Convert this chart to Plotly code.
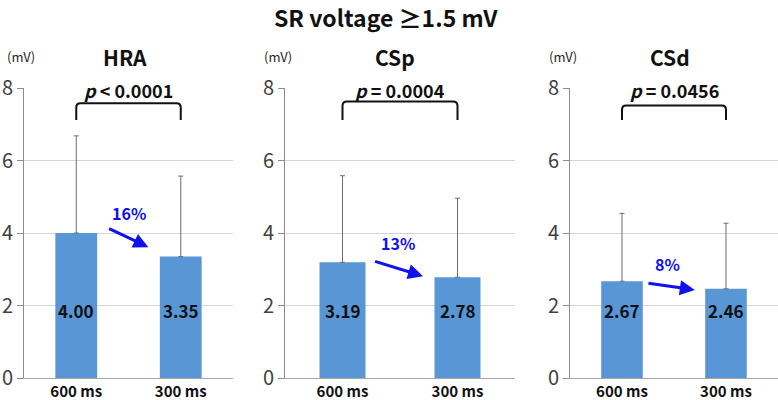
import plotly.graph_objects as go

# ---- data ----
panels = ["HRA", "CSp", "CSd"]
categories = ["600 ms", "300 ms"]
means = {"HRA": [4.00, 3.35], "CSp": [3.19, 2.78], "CSd": [2.67, 2.46]}
sd_upper = {"HRA": [2.68, 2.22], "CSp": [2.39, 2.18], "CSd": [1.87, 1.81]}
p_labels = {"HRA": "<i>p</i>&nbsp;< 0.0001", "CSp": "<i>p</i>&nbsp;= 0.0004", "CSd": "<i>p</i>&nbsp;= 0.0456"}
pct_labels = {"HRA": "16%", "CSp": "13%", "CSd": "8%"}
title_text = "SR voltage ≥1.5 mV"
y_ticks = [0, 2, 4, 6, 8]

# ---- layout / styling ----
FONT = "Noto Sans CJK JP"
BAR_COLOR = "#5896d6"
BLUE = "#1010f0"
x_domains = [[24/778, 233/778], [285/778, 515/778], [570/778, 1.0]]
y_domain = [22/400, 312/400]
title_x = [125/778, 395/778, 670/778]
mv_x = [21/778, 278/778, 563/778]
# arrow geometry per panel in data coords: (x_start, y_start, x_end, y_end, label_x, label_y)
arrows = {
    "HRA": (0.30, 4.14, 0.69, 3.61, 0.50, 4.55),
    "CSp": (0.27, 3.23, 0.70, 2.81, 0.48, 3.72),
    "CSd": (0.24, 2.62, 0.70, 2.43, 0.44, 3.14),
}
bracket_top = {"HRA": 7.58, "CSp": 7.63, "CSd": 7.52}
bracket_bot = 7.12
LABEL_Y = 1.87
P_Y = 7.95

fig = go.Figure()
shapes = []
annotations = []
layout = {}
xvals = [0, 1]

def ann(**kw):
    kw.setdefault("xanchor", "center")
    kw.setdefault("yanchor", "middle")
    kw.setdefault("showarrow", False)
    annotations.append(kw)

for i, name in enumerate(panels):
    sfx = "" if i == 0 else str(i + 1)
    xa, ya = "x" + sfx, "y" + sfx
    fig.add_trace(go.Bar(
        x=xvals, y=means[name], width=0.4,
        marker=dict(color=BAR_COLOR, line=dict(width=0)),
        error_y=dict(type="data", symmetric=False, array=sd_upper[name],
                     arrayminus=[0, 0], color="#6e6e6e", thickness=1, width=2.5),
        xaxis=xa, yaxis=ya, showlegend=False, hoverinfo="skip",
    ))
    layout["xaxis" + sfx] = dict(
        domain=x_domains[i], range=[-0.5, 1.5], anchor=ya, automargin=False,
        tickvals=xvals, ticktext=["<b>%s</b>" % c for c in categories],
        tickfont=dict(family=FONT, size=15, color="#111"),
        showline=True, linecolor="#a6a6a6", linewidth=1, showgrid=False,
        ticks="", zeroline=False, fixedrange=True,
    )
    layout["yaxis" + sfx] = dict(
        domain=y_domain, range=[0, 8], anchor=xa, tickvals=y_ticks, automargin=False,
        tickfont=dict(family=FONT, size=20, color="#404040"),
        showline=True, linecolor="#8c8c8c", linewidth=1,
        ticks="outside", ticklen=6, tickcolor="#8c8c8c",
        showgrid=True, gridcolor="#d4d4d4", gridwidth=1, zeroline=False,
        fixedrange=True,
    )
    # value labels
    for xv, v in zip(xvals, means[name]):
        ann(x=xv, y=LABEL_Y, xref=xa, yref=ya, text="<b>%.2f</b>" % v,
            font=dict(family=FONT, size=17, color="#111"))
    # bracket
    t = bracket_top[name]
    r = 0.04
    path = (f"M 0,{bracket_bot} L 0,{t-0.12} Q 0,{t} {r},{t} "
            f"L {1-r},{t} Q 1,{t} 1,{t-0.12} L 1,{bracket_bot}")
    shapes.append(dict(type="path", path=path, xref=xa, yref=ya,
                       line=dict(color="#111", width=2)))
    ann(x=0.5, y=P_Y, xref=xa, yref=ya, text="<b>%s</b>" % p_labels[name],
        font=dict(family=FONT, size=18, color="#111"))
    # arrow
    x0, y0, x1, y1, lx, ly = arrows[name]
    annotations.append(dict(x=x1, y=y1, ax=x0, ay=y0, xref=xa, yref=ya, axref=xa, ayref=ya,
                            text="", showarrow=True, arrowhead=2, arrowsize=1, arrowwidth=3,
                            arrowcolor=BLUE))
    ann(x=lx, y=ly, xref=xa, yref=ya, text="<b>%s</b>" % pct_labels[name],
        font=dict(family=FONT, size=16, color=BLUE))
    # panel title and unit
    ann(x=title_x[i], y=1 - 57/400, xref="paper", yref="paper",
        text="<b>%s</b>" % name, font=dict(family=FONT, size=21, color="#111"))
    ann(x=mv_x[i], y=1 - 57/400, xref="paper", yref="paper",
        text="(mV)", font=dict(family=FONT, size=13, color="#222"))

ann(x=386/778, y=1 - 17/400, xref="paper", yref="paper",
    text="<b>%s</b>" % title_text, font=dict(family=FONT, size=23, color="#111"))

fig.update_layout(
    width=778, height=400, margin=dict(l=0, r=0, t=0, b=0, autoexpand=False),
    paper_bgcolor="white", plot_bgcolor="white",
    shapes=shapes, annotations=annotations, bargap=0.6, **layout,
)
fig.write_html("out.html", config={"displayModeBar": False},
               post_script="document.body.style.margin='0';document.body.style.overflow='hidden';")
